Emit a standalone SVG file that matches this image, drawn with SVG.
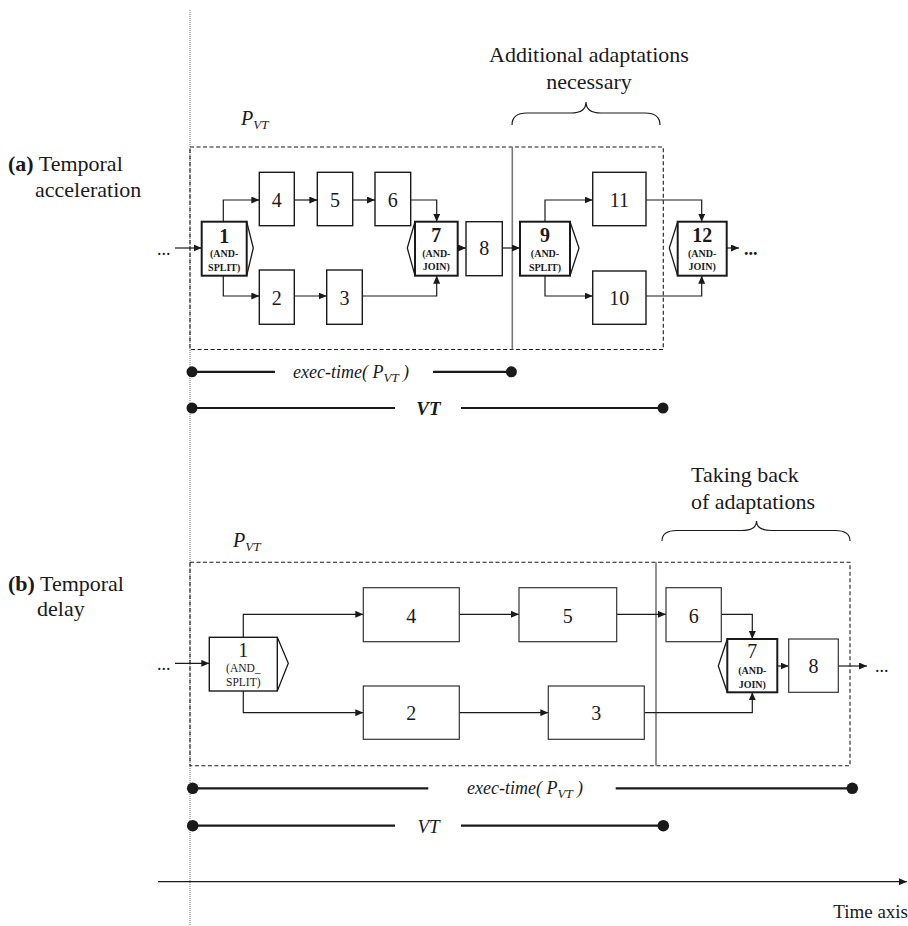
<svg xmlns="http://www.w3.org/2000/svg" width="908" height="926" viewBox="0 0 908 926" font-family="'Liberation Serif', 'Times New Roman', 'DejaVu Serif', serif">
<style>
text{font-family:'Liberation Serif','Times New Roman','DejaVu Serif',serif;fill:#1a1a1a}
.lbl{font-size:22px}
.num{font-size:20px;text-anchor:middle}
.numb{font-size:20px;text-anchor:middle;font-weight:bold}
.sm{font-size:10px;text-anchor:middle;font-weight:bold}
.smr{font-size:11.5px;text-anchor:middle}
.it{font-style:italic}
.box{fill:#fff;stroke:#1a1a1a;stroke-width:1.4}
.box2{fill:#fff;stroke:#333;stroke-width:1.2}
.gw{fill:#fff;stroke:#1a1a1a;stroke-width:2}
.chev{fill:none;stroke:#1a1a1a;stroke-width:1.3}
.con{fill:none;stroke:#1a1a1a;stroke-width:1.2;marker-end:url(#ah)}
.dash{fill:none;stroke:#1a1a1a;stroke-width:1.1;stroke-dasharray:4,2.5}
.sep{stroke:#777;stroke-width:1.6}
.tl{stroke:#1a1a1a;stroke-width:2.2}
.dot{fill:#1a1a1a}
.brace{fill:none;stroke:#1a1a1a;stroke-width:1.2}
</style>
<defs>
<marker id="ah" markerUnits="userSpaceOnUse" markerWidth="8" markerHeight="7" refX="8" refY="3.5" orient="auto">
<path d="M0,0 L8,3.5 L0,7 z" fill="#1a1a1a"/>
</marker>
</defs>

<line x1="190" y1="10" x2="190" y2="926" stroke="#888" stroke-width="1.2" stroke-dasharray="1,1"/>

<text class="lbl" x="8" y="171"><tspan font-weight="bold">(a)</tspan> Temporal</text>
<text class="lbl" x="35" y="197">acceleration</text>
<text class="lbl" x="8" y="591"><tspan font-weight="bold">(b)</tspan> Temporal</text>
<text class="lbl" x="37" y="616">delay</text>

<text class="lbl" x="589" y="62" text-anchor="middle">Additional adaptations</text>
<text class="lbl" x="589" y="89" text-anchor="middle">necessary</text>
<text class="lbl" x="691" y="482">Taking back</text>
<text class="lbl" x="691" y="509">of adaptations</text>

<path class="brace" d="M512,125 Q512,113 527,113 L571,113 Q586,113 586,102 Q586,113 601,113 L645,113 Q660,113 660,125"/>
<path class="brace" d="M662,541 Q662,530.5 677,530.5 L741.5,530.5 Q756.5,530.5 756.5,521 Q756.5,530.5 771.5,530.5 L835,530.5 Q850,530.5 850,541"/>

<text class="it" x="241" y="125" font-size="20">P<tspan font-size="13" dy="4">VT</tspan></text>
<text class="it" x="233" y="547" font-size="20">P<tspan font-size="13" dy="4">VT</tspan></text>

<rect class="dash" x="190" y="147" width="473.3" height="202.5"/>
<line class="sep" x1="512.3" y1="147" x2="512.3" y2="349.5"/>
<rect class="dash" x="190" y="562.3" width="660" height="203.4"/>
<line class="sep" x1="656" y1="562.3" x2="656" y2="765.7"/>

<g id="connectors">
<line class="con" x1="175" y1="248" x2="201.7" y2="248"/>
<polyline class="con" points="223.3,221.7 223.3,200 259.3,200"/>
<polyline class="con" points="223.3,275.7 223.3,296 259.3,296"/>
<line class="con" x1="294.3" y1="200" x2="317.3" y2="200"/>
<line class="con" x1="352.7" y1="200" x2="375" y2="200"/>
<polyline class="con" points="410.7,200 436.7,200 436.7,221.7"/>
<line class="con" x1="294.3" y1="296" x2="326.7" y2="296"/>
<polyline class="con" points="362.3,296 436.7,296 436.7,275.7"/>
<line class="con" x1="457.7" y1="248" x2="466" y2="248"/>
<line class="con" x1="502.3" y1="248" x2="520" y2="248"/>
<polyline class="con" points="545,221.7 545,200 592.7,200"/>
<polyline class="con" points="545,275.7 545,296 592.7,296"/>
<polyline class="con" points="646,200 701.7,200 701.7,221.7"/>
<polyline class="con" points="646,296 701.7,296 701.7,275.7"/>
<line class="con" x1="726.7" y1="248" x2="739" y2="248"/>

<line class="con" x1="175" y1="663.3" x2="209.3" y2="663.3"/>
<polyline class="con" points="243.3,637.3 243.3,614.3 363.3,614.3"/>
<polyline class="con" points="243.3,691 243.3,712.7 363.3,712.7"/>
<line class="con" x1="459.3" y1="614.3" x2="519" y2="614.3"/>
<line class="con" x1="616.7" y1="614.3" x2="666" y2="614.3"/>
<line class="con" x1="459.3" y1="712.7" x2="548.3" y2="712.7"/>
<polyline class="con" points="721.3,614.3 752.3,614.3 752.3,639"/>
<polyline class="con" points="644.3,712.7 752.3,712.7 752.3,692.3"/>
<line class="con" x1="777.3" y1="666" x2="788.7" y2="666"/>
<line class="con" x1="838.3" y1="666" x2="867" y2="666"/>
</g>

<text x="157" y="255" font-size="18">...</text>
<text x="744" y="255" font-size="18" font-weight="bold">...</text>
<text x="157" y="670" font-size="18">...</text>
<text x="875" y="672" font-size="18">...</text>

<g id="a1"><rect class="gw" x="201.7" y="221.7" width="45" height="54"/><polyline class="chev" points="246.7,221.7 253.3,248 246.7,275.7"/>
<text class="numb" x="224.2" y="243">1</text><text class="sm" x="224.2" y="257">(AND-</text><text class="sm" x="224.2" y="270.5">SPLIT)</text></g>
<g id="a4"><rect class="box" x="259.3" y="172.3" width="35" height="53.4"/><text class="num" x="276.8" y="206.5">4</text></g>
<g id="a5"><rect class="box" x="317.3" y="172.3" width="35.4" height="53.4"/><text class="num" x="335" y="206.5">5</text></g>
<g id="a6"><rect class="box" x="375" y="172.3" width="35.7" height="53.4"/><text class="num" x="392.8" y="206.5">6</text></g>
<g id="a2"><rect class="box" x="259.3" y="270" width="35" height="54.3"/><text class="num" x="276.8" y="304.5">2</text></g>
<g id="a3"><rect class="box" x="326.7" y="270" width="35.6" height="54.3"/><text class="num" x="344.5" y="304.5">3</text></g>
<g id="a7"><rect class="gw" x="415" y="221.7" width="42.7" height="54"/><polyline class="chev" points="415,221.7 407.3,248 415,275.7"/>
<text class="numb" x="436.3" y="242">7</text><text class="sm" x="436.3" y="256.5">(AND-</text><text class="sm" x="436.3" y="270">JOIN)</text></g>
<g id="a8"><rect class="box" x="466" y="221.7" width="36.3" height="54"/><text class="num" x="484.2" y="255">8</text></g>
<g id="a9"><rect class="gw" x="520" y="221.7" width="50" height="54"/><polyline class="chev" points="570,221.7 579,248 570,275.7"/>
<text class="numb" x="545" y="242">9</text><text class="sm" x="545" y="256.5">(AND-</text><text class="sm" x="545" y="271">SPLIT)</text></g>
<g id="a11"><rect class="box" x="592.7" y="172.3" width="53.3" height="53.4"/><text class="num" x="619.3" y="206.5">11</text></g>
<g id="a10"><rect class="box" x="592.7" y="271" width="53.3" height="53.3"/><text class="num" x="619.3" y="305">10</text></g>
<g id="a12"><rect class="gw" x="677.7" y="221.7" width="49" height="54"/><polyline class="chev" points="677.7,221.7 669.3,248 677.7,275.7"/>
<text class="numb" x="702.2" y="242">12</text><text class="sm" x="702.2" y="256.5">(AND-</text><text class="sm" x="702.2" y="270">JOIN)</text></g>

<g id="b1"><rect class="box" x="209.3" y="637.3" width="68" height="53.7"/><polyline class="chev" points="277.3,637.3 288.3,663.3 277.3,691"/>
<text class="num" x="243.3" y="656.5" font-size="19">1</text><text class="smr" x="243.3" y="672">(AND_</text><text class="smr" x="243.3" y="686">SPLIT)</text></g>
<g id="b4"><rect class="box2" x="363.3" y="587.7" width="96" height="54"/><text class="num" x="411.3" y="622.5" font-size="19">4</text></g>
<g id="b5"><rect class="box2" x="519" y="587.7" width="97.7" height="54"/><text class="num" x="567.8" y="622.5" font-size="19">5</text></g>
<g id="b2"><rect class="box2" x="363.3" y="686" width="96" height="53.3"/><text class="num" x="411.3" y="720" font-size="19">2</text></g>
<g id="b3"><rect class="box2" x="548.3" y="686" width="96" height="53.3"/><text class="num" x="596.3" y="720" font-size="19">3</text></g>
<g id="b6"><rect class="box2" x="666" y="587.7" width="55.3" height="54"/><text class="num" x="693.7" y="622.5" font-size="19">6</text></g>
<g id="b7"><rect class="gw" x="727.3" y="639" width="50" height="53.3"/><polyline class="chev" points="727.3,639 718.3,666 727.3,692.3"/>
<text class="num" x="752.3" y="658.3" font-size="19">7</text><text class="sm" x="752.3" y="674.3" font-size="10.5">(AND-</text><text class="sm" x="752.3" y="688.3" font-size="10.5">JOIN)</text></g>
<g id="b8"><rect class="box2" x="788.7" y="639" width="49.6" height="53.3"/><text class="num" x="813.5" y="673" font-size="19">8</text></g>

<line class="tl" x1="192" y1="371.8" x2="275" y2="371.8"/>
<line class="tl" x1="433" y1="371.8" x2="511.4" y2="371.8"/>
<circle class="dot" cx="192" cy="371.8" r="5.5"/><circle class="dot" cx="511.4" cy="371.8" r="5.5"/>
<text class="it" x="293" y="378" font-size="18">exec-time( P<tspan font-size="13" dy="4">VT</tspan><tspan dy="-4"> )</tspan></text>
<line class="tl" x1="192" y1="408" x2="395" y2="408"/>
<line class="tl" x1="461" y1="408" x2="663" y2="408"/>
<circle class="dot" cx="192" cy="408" r="5.5"/><circle class="dot" cx="663" cy="408" r="5.5"/>
<text class="it" x="428.5" y="415" font-size="19" font-weight="bold" text-anchor="middle">VT</text>

<line class="tl" x1="192.7" y1="788.3" x2="428.3" y2="788.3"/>
<line class="tl" x1="615.7" y1="788.3" x2="852.3" y2="788.3"/>
<circle class="dot" cx="192.7" cy="788.3" r="5.8"/><circle class="dot" cx="852.3" cy="788.3" r="5.8"/>
<text class="it" x="467" y="794" font-size="18">exec-time( P<tspan font-size="13" dy="4">VT</tspan><tspan dy="-4"> )</tspan></text>
<line class="tl" x1="192.7" y1="825.7" x2="395" y2="825.7"/>
<line class="tl" x1="461" y1="825.7" x2="663.3" y2="825.7"/>
<circle class="dot" cx="192.7" cy="825.7" r="5.8"/><circle class="dot" cx="663.3" cy="825.7" r="5.8"/>
<text class="it" x="428.5" y="832.7" font-size="19" text-anchor="middle">VT</text>

<line x1="158" y1="881.7" x2="907" y2="881.7" stroke="#1a1a1a" stroke-width="1.2" marker-end="url(#ah)"/>
<text x="908" y="918" font-size="19" text-anchor="end">Time axis</text>
</svg>
